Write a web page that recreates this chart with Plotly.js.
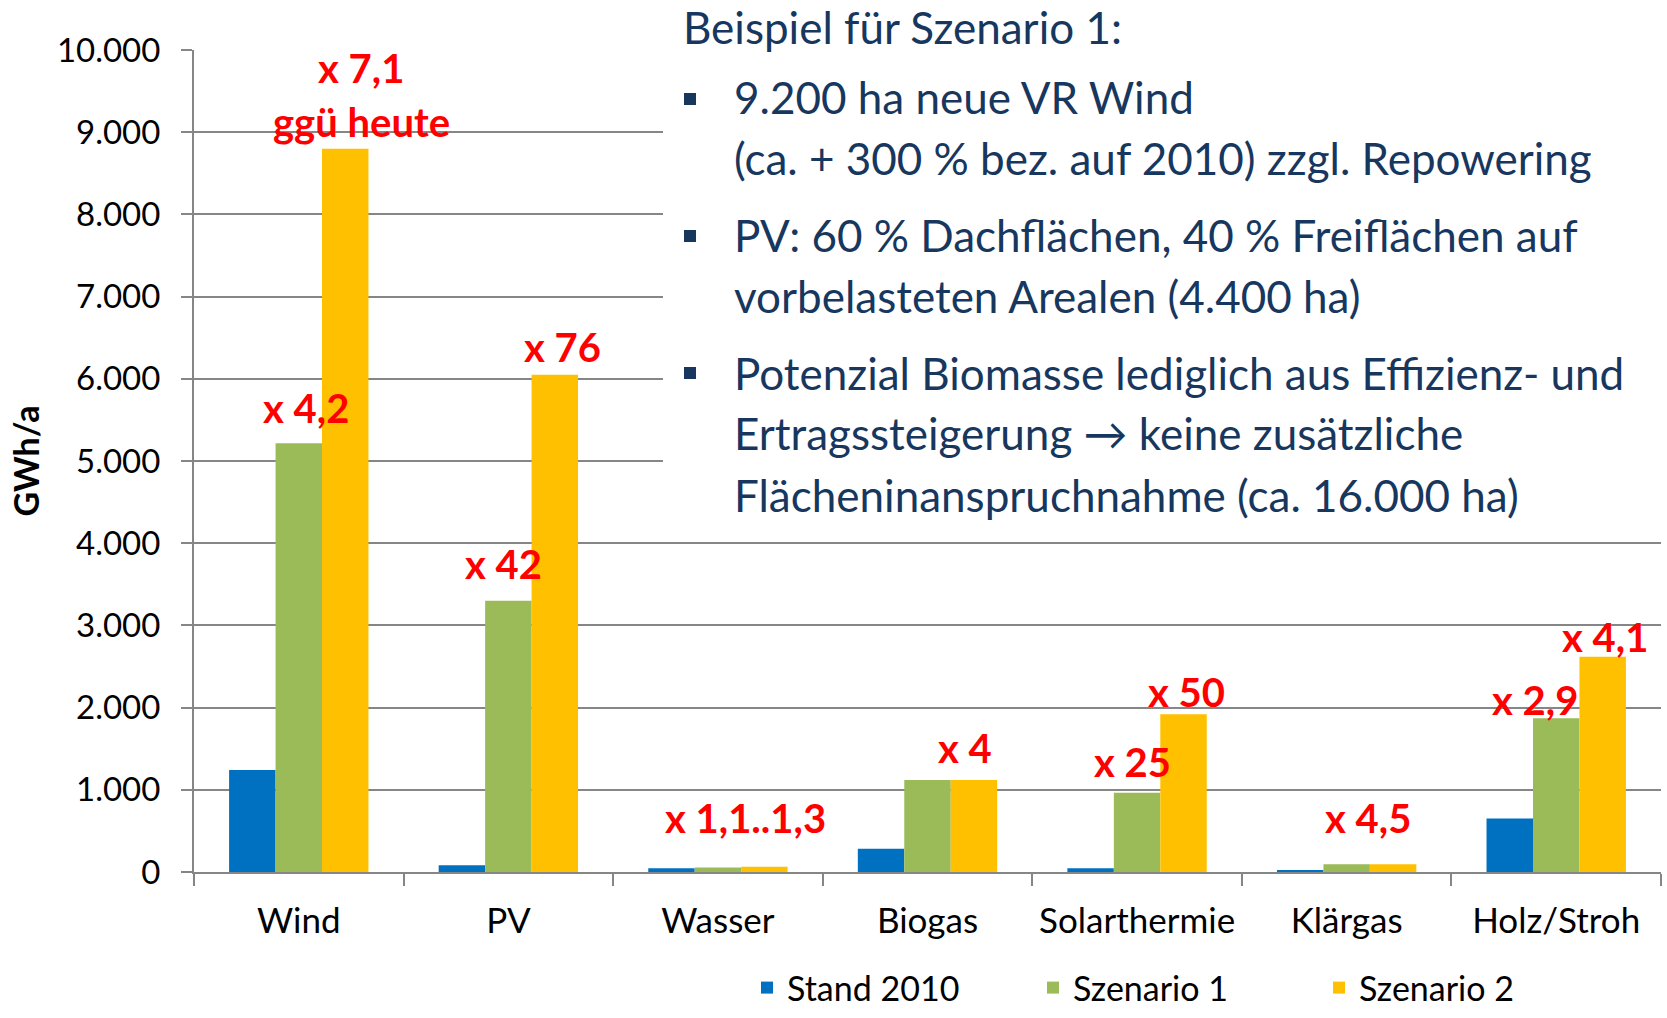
<!DOCTYPE html>
<html>
<head>
<meta charset="utf-8">
<script src="https://cdn.plot.ly/plotly-3.0.1.min.js"></script>
<style>html,body{margin:0;padding:0;background:#fff;}#chart{width:1667px;height:1018px;}</style>
</head>
<body>
<div id="chart"></div>
<script>
// ---- data ----
const categories = ['Wind', 'PV', 'Wasser', 'Biogas', 'Solarthermie', 'Klärgas', 'Holz/Stroh'];
const seriesNames = ['Stand 2010', 'Szenario 1', 'Szenario 2'];
const stand2010 = [1240, 82, 45, 283, 45, 25, 650];
const szenario1 = [5215, 3300, 55, 1120, 965, 95, 1870];
const szenario2 = [8800, 6050, 65, 1120, 1920, 95, 2620];
const yTickVals = [0, 1000, 2000, 3000, 4000, 5000, 6000, 7000, 8000, 9000, 10000];

// factor labels: text, category, series index (0,1,2)
const labelTexts = ['x 7,1', 'ggü heute', 'x 4,2', 'x 42', 'x 76', 'x 1,1..1,3', 'x 4', 'x 25', 'x 50', 'x 4,5', 'x 2,9', 'x 4,1'];
const labelCats = ['Wind', 'Wind', 'Wind', 'PV', 'PV', 'Wasser', 'Biogas', 'Solarthermie', 'Solarthermie', 'Klärgas', 'Holz/Stroh', 'Holz/Stroh'];
const labelSeries = [2, 2, 1, 1, 2, 1, 2, 1, 2, 1, 1, 2];

const boxTitle = 'Beispiel für Szenario 1:';
const boxLines = [
  '9.200 ha neue VR Wind',
  '(ca. + 300 % bez. auf 2010) zzgl. Repowering',
  'PV: 60 % Dachflächen, 40 % Freiflächen auf',
  'vorbelasteten Arealen (4.400 ha)',
  'Potenzial Biomasse lediglich aus Effizienz- und',
  'Ertragssteigerung \u2192 keine zusätzliche',
  'Flächeninanspruchnahme (ca. 16.000 ha)'
];

// ---- layout / style (positions in px) ----
const W = 1667, H = 1018;
const M = {l: 194, r: 6, t: 50, b: 146, autoexpand: false};
const PW = W - M.l - M.r, PH = H - M.t - M.b;
const px = x => (x - M.l) / PW;
const py = y => (H - M.b - y) / PH;

const colors = ['#0070C0', '#9BBB59', '#FFC000'];
const navy = '#17375E';
const grid = '#868686';
const BARGAP = 0.335;
const barW = (1 - BARGAP) / 3;

// label pixel shifts [dx, dy above bar top]
const labelShift = [[16, 81], [16, 27], [7, 35], [-5, 37], [8, 28], [28, 49], [-9, 32], [-5, 31], [3, 22], [21, 46], [-21, 18], [2, 20]];
const boxTitleCenter = 27;
const boxLineCenters = [97, 158, 235, 296, 373, 433, 495];
const bulletCenters = [99, 236, 373];

const allSeries = [stand2010, szenario1, szenario2];
const traces = allSeries.map((vals, i) => ({
  type: 'bar',
  name: seriesNames[i],
  x: categories,
  y: vals,
  marker: {color: colors[i], line: {width: 0}},
  hoverinfo: 'x+y+name'
}));

const annotations = [];
labelTexts.forEach((t, k) => {
  const ci = categories.indexOf(labelCats[k]);
  const s = labelSeries[k];
  annotations.push({
    xref: 'x', yref: 'y',
    x: ci + (s - 1) * barW,
    y: allSeries[s][ci],
    text: '<b>' + t + '</b>',
    showarrow: false,
    xanchor: 'center', yanchor: 'middle',
    xshift: labelShift[k][0], yshift: labelShift[k][1],
    font: {family: 'Lato, sans-serif', size: 40, color: '#FF0000'}
  });
});

annotations.push({
  xref: 'paper', yref: 'paper', x: px(681), y: py(boxTitleCenter),
  xanchor: 'left', yanchor: 'middle', showarrow: false,
  text: boxTitle,
  font: {family: 'Lato, sans-serif', size: 44, color: navy}
});
boxLines.forEach((t, i) => {
  annotations.push({
    xref: 'paper', yref: 'paper', x: px(732), y: py(boxLineCenters[i]),
    xanchor: 'left', yanchor: 'middle', showarrow: false,
    text: t,
    font: {family: 'Lato, sans-serif', size: 44, color: navy}
  });
});

const shapes = [{
  type: 'rect', xref: 'paper', yref: 'paper', layer: 'above',
  x0: px(663), x1: px(W + 5), y0: py(525), y1: py(-5),
  fillcolor: '#ffffff', line: {width: 0}
}];
bulletCenters.forEach(c => {
  shapes.push({
    type: 'rect', xref: 'paper', yref: 'paper', layer: 'above',
    x0: px(684), x1: px(696), y0: py(c + 6), y1: py(c - 6),
    fillcolor: navy, line: {width: 0}
  });
});

const layout = {
  width: W, height: H,
  margin: M,
  paper_bgcolor: '#ffffff', plot_bgcolor: '#ffffff',
  separators: ',.',
  barmode: 'group',
  bargap: BARGAP, bargroupgap: 0,
  font: {family: 'Lato, sans-serif', color: '#000000'},
  xaxis: {
    type: 'category',
    showline: true, linecolor: grid, linewidth: 2,
    ticks: 'outside', tickson: 'boundaries', ticklen: 12, tickwidth: 2, tickcolor: grid,
    tickfont: {family: 'Lato, sans-serif', size: 35, color: '#000'},
    ticklabelstandoff: 17,
    showgrid: false, zeroline: false, fixedrange: true, automargin: false
  },
  yaxis: {
    range: [0, 10000],
    tickvals: yTickVals,
    tickformat: ',d',
    showgrid: true, gridcolor: grid, gridwidth: 2,
    showline: true, linecolor: grid, linewidth: 2,
    ticks: 'outside', ticklen: 11, tickwidth: 2, tickcolor: grid,
    tickfont: {family: 'Lato, sans-serif', size: 33, color: '#000'},
    ticklabelstandoff: 14,
    zeroline: false, automargin: false,
    title: {text: '<b>GWh/a</b>', font: {family: 'Lato, sans-serif', size: 34, color: '#000'}, standoff: 7}
  },
  showlegend: true,
  legend: {
    orientation: 'h',
    x: px(747), xanchor: 'left',
    y: py(1017), yanchor: 'bottom',
    entrywidth: 241,
    font: {family: 'Lato, sans-serif', size: 34, color: '#000'},
    bgcolor: 'rgba(0,0,0,0)', borderwidth: 0
  },
  annotations: annotations,
  shapes: shapes
};

Plotly.newPlot('chart', traces, layout, {displayModeBar: false, staticPlot: true});
</script>
</body>
</html>
